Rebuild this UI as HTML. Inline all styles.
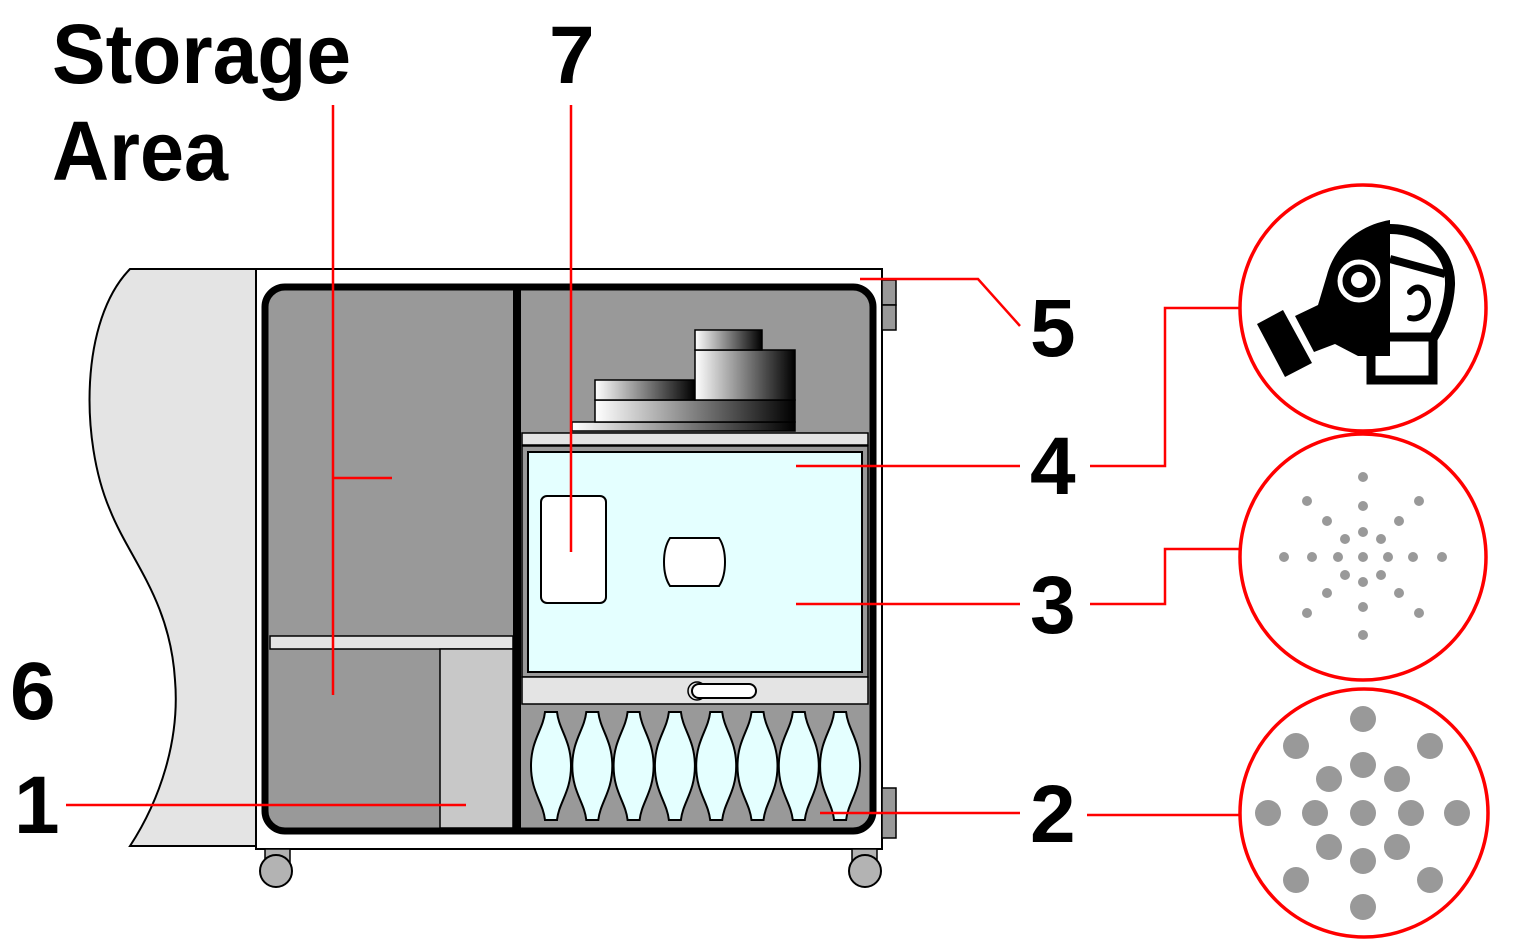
<!DOCTYPE html>
<html><head><meta charset="utf-8"><style>html,body{margin:0;padding:0;background:#fff}svg{display:block}</style></head>
<body>
<svg width="1513" height="946" viewBox="0 0 1513 946" xmlns="http://www.w3.org/2000/svg" font-family="Liberation Sans, Arial, sans-serif" font-weight="bold">
<defs>
<linearGradient id="g" x1="0" x2="1" y1="0" y2="0"><stop offset="0" stop-color="#fff"/><stop offset="1" stop-color="#000"/></linearGradient>
</defs>
<path d="M130,269 L256,269 L256,846 L130,846 C160,800 180,740 175,680 C170,600 130,560 110,510 C80,440 80,320 130,269 Z" fill="#e4e4e4" stroke="#000" stroke-width="2"/>
<rect x="256" y="269" width="626" height="580" fill="#fff" stroke="#000" stroke-width="2"/>
<rect x="265" y="849" width="25" height="14" fill="#b3b3b3" stroke="#000" stroke-width="1.5"/>
<circle cx="276" cy="871" r="16" fill="#b3b3b3" stroke="#000" stroke-width="2"/>
<rect x="852" y="849" width="25" height="14" fill="#b3b3b3" stroke="#000" stroke-width="1.5"/>
<circle cx="865" cy="871" r="16" fill="#b3b3b3" stroke="#000" stroke-width="2"/>
<rect x="882" y="280" width="14" height="25" fill="#999" stroke="#000" stroke-width="1.5"/>
<rect x="882" y="305" width="14" height="25" fill="#999" stroke="#000" stroke-width="1.5"/>
<rect x="882" y="788" width="14" height="50" fill="#999" stroke="#000" stroke-width="1.5"/>
<rect x="265" y="287" width="608" height="544" rx="20" fill="#999" stroke="#000" stroke-width="7"/>
<rect x="270" y="636" width="243" height="13" fill="#e4e4e4" stroke="#000" stroke-width="1.5"/>
<rect x="440" y="649" width="73" height="179" fill="#c8c8c8" stroke="#000" stroke-width="1.5"/>
<rect x="513" y="287" width="8" height="544" fill="#000"/>
<rect x="572" y="422" width="223" height="9" fill="url(#g)" stroke="#000" stroke-width="1.5"/>
<rect x="595" y="400" width="200" height="22" fill="url(#g)" stroke="#000" stroke-width="1.5"/>
<rect x="595" y="380" width="100" height="20" fill="url(#g)" stroke="#000" stroke-width="1.5"/>
<rect x="695" y="350" width="100" height="50" fill="url(#g)" stroke="#000" stroke-width="1.5"/>
<rect x="695" y="330" width="67" height="20" fill="url(#g)" stroke="#000" stroke-width="1.5"/>
<rect x="522" y="433" width="346" height="12" fill="#e4e4e4" stroke="#000" stroke-width="1.5"/>
<rect x="522" y="446" width="346" height="231" fill="#999" stroke="#000" stroke-width="1.5"/>
<rect x="528" y="452" width="334" height="220" fill="#e4ffff" stroke="#000" stroke-width="2"/>
<rect x="541" y="496" width="65" height="107" rx="6" fill="#fff" stroke="#000" stroke-width="2"/>
<path d="M670,538 L719,538 C727,550 727,574 719,586 L670,586 C662,574 662,550 670,538 Z" fill="#fff" stroke="#000" stroke-width="2"/>
<rect x="522" y="677" width="346" height="27" fill="#e4e4e4" stroke="#000" stroke-width="1.5"/>
<circle cx="697" cy="691" r="9" fill="#e4e4e4" stroke="#000" stroke-width="1.5"/>
<rect x="692" y="684" width="64" height="14" rx="7" fill="#fff" stroke="#000" stroke-width="2"/>
<g fill="#e4ffff" stroke="#000" stroke-width="2">
<path id="b" d="M545,712 L557,712 C559,730 571,740 571,766 C571,792 559,802 557,820 L545,820 C543,802 531,792 531,766 C531,740 543,730 545,712 Z"/>
<use href="#b" x="41.3"/><use href="#b" x="82.6"/><use href="#b" x="123.9"/><use href="#b" x="165.2"/><use href="#b" x="206.5"/><use href="#b" x="247.8"/><use href="#b" x="289.1"/>
</g>
<g stroke="#f00" stroke-width="2.5" fill="none">
<path d="M333,105 L333,695 M333,478 L392,478"/>
<path d="M571,105 L571,552"/>
<path d="M860,279 L978,279 L1020,326"/>
<path d="M796,466 L1020,466 M1090,466 L1165,466 L1165,308 L1240,308"/>
<path d="M796,604 L1020,604 M1090,604 L1165,604 L1165,549 L1240,549"/>
<path d="M820,813 L1020,813 M1087,815 L1240,815"/>
<path d="M66,805 L466,805"/>
<circle cx="1363" cy="308" r="123" stroke-width="3.5"/>
<circle cx="1363" cy="557" r="123" stroke-width="3.5"/>
<circle cx="1364" cy="813" r="124" stroke-width="3.5"/>
</g>
<text x="52" y="83" font-size="84" textLength="299" lengthAdjust="spacingAndGlyphs">Storage</text>
<text x="52" y="180" font-size="84" textLength="176" lengthAdjust="spacingAndGlyphs">Area</text>
<g font-size="82">
<text x="549" y="83">7</text>
<text x="1030" y="356">5</text>
<text x="1030" y="494">4</text>
<text x="1030" y="633">3</text>
<text x="1030" y="842">2</text>
<text x="10" y="719">6</text>
<text x="14" y="833">1</text>
</g>
<g fill="#999">
<circle cx="1363" cy="557" r="5"/>
<circle cx="1363" cy="532" r="5"/><circle cx="1363" cy="506" r="5"/><circle cx="1363" cy="477" r="5"/>
<circle cx="1363" cy="582" r="5"/><circle cx="1363" cy="607" r="5"/><circle cx="1363" cy="635" r="5"/>
<circle cx="1388" cy="557" r="5"/><circle cx="1413" cy="557" r="5"/><circle cx="1442" cy="557" r="5"/>
<circle cx="1338" cy="557" r="5"/><circle cx="1312" cy="557" r="5"/><circle cx="1284" cy="557" r="5"/>
<circle cx="1345" cy="539" r="5"/><circle cx="1327" cy="521" r="5"/><circle cx="1307" cy="501" r="5"/>
<circle cx="1381" cy="539" r="5"/><circle cx="1399" cy="521" r="5"/><circle cx="1419" cy="501" r="5"/>
<circle cx="1345" cy="575" r="5"/><circle cx="1327" cy="593" r="5"/><circle cx="1307" cy="613" r="5"/>
<circle cx="1381" cy="575" r="5"/><circle cx="1399" cy="593" r="5"/><circle cx="1419" cy="613" r="5"/>
</g>
<g fill="#999">
<circle cx="1363" cy="813" r="13"/>
<circle cx="1363" cy="765" r="13"/><circle cx="1363" cy="719" r="13"/>
<circle cx="1363" cy="861" r="13"/><circle cx="1363" cy="907" r="13"/>
<circle cx="1315" cy="813" r="13"/><circle cx="1268" cy="813" r="13"/>
<circle cx="1411" cy="813" r="13"/><circle cx="1457" cy="813" r="13"/>
<circle cx="1329" cy="779" r="13"/><circle cx="1397" cy="779" r="13"/>
<circle cx="1329" cy="847" r="13"/><circle cx="1397" cy="847" r="13"/>
<circle cx="1296" cy="746" r="13"/><circle cx="1430" cy="746" r="13"/>
<circle cx="1296" cy="880" r="13"/><circle cx="1430" cy="880" r="13"/>
</g>
<g>
<path d="M1390,229 C1425,229 1451,252 1450,285 C1449,305 1443,322 1433,338" fill="none" stroke="#000" stroke-width="10"/>
<path d="M1390,259 L1445,274" stroke="#000" stroke-width="8"/>
<rect x="1371" y="337" width="62" height="43" fill="#fff" stroke="#000" stroke-width="9"/>
<path d="M1390,220 C1360,225 1335,245 1327,275 L1318,305 L1295,316 L1314,352 L1335,344 L1358,356 L1390,356 Z" fill="#000"/>
<path d="M1257,324 L1283,310 L1312,363 L1285,377 Z" fill="#000"/>
<circle cx="1359" cy="281" r="19" fill="none" stroke="#fff" stroke-width="5"/>
<circle cx="1359" cy="280" r="8" fill="#fff"/>
<path d="M1410,292 C1418,282 1428,290 1428,302 C1428,315 1418,320 1410,318" fill="none" stroke="#000" stroke-width="6" stroke-linecap="round"/>
</g>
</svg>
</body></html>
